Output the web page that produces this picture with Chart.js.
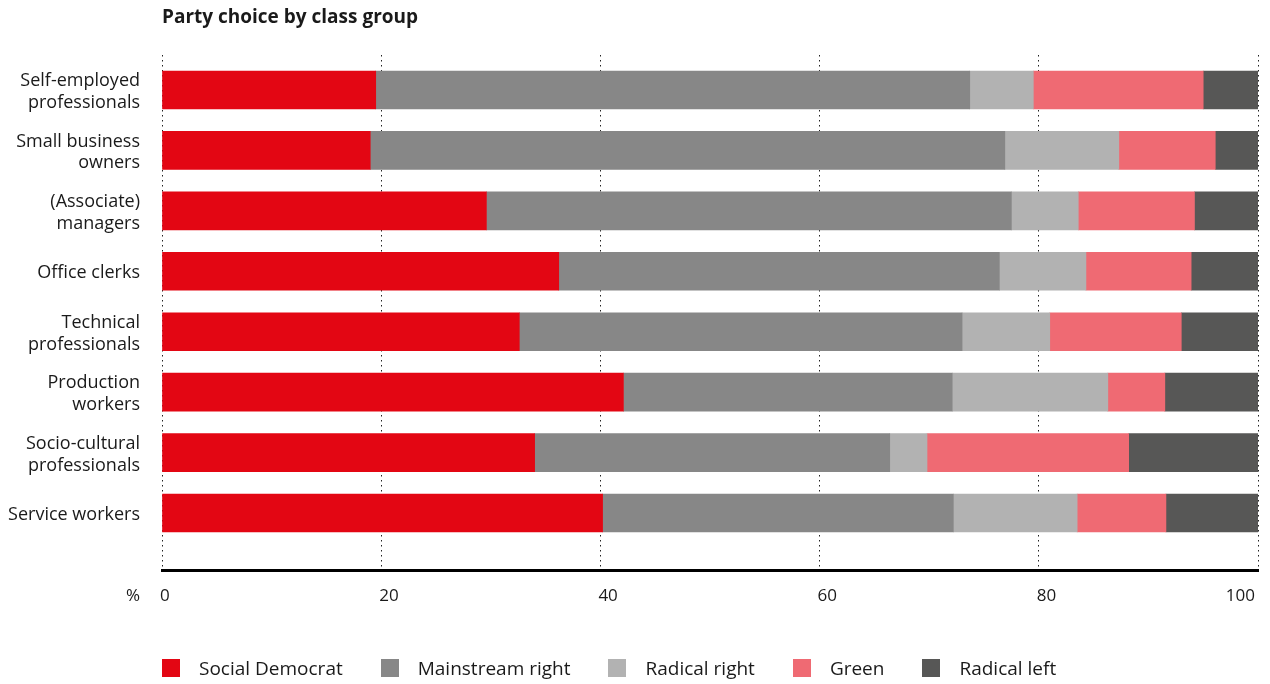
<!DOCTYPE html>
<html>
<head>
<meta charset="utf-8">
<script src="https://cdn.jsdelivr.net/npm/chart.js@4/dist/chart.umd.min.js"></script>
<style>
  body { margin: 0; background: #fff; font-family: "Open Sans", sans-serif; color: #1a1a1a; }
  #wrap { position: relative; width: 1270px; height: 684px; }
  #title { position: absolute; left: 162px; top: 4px; font-size: 19px; font-weight: bold; line-height: 24px; }
  #legend { position: absolute; left: 162px; top: 656px; display: flex; gap: 38px; font-size: 19px; line-height: 24px; }
  #legend span { display: flex; align-items: center; }
  #legend i { display: inline-block; width: 18px; height: 18px; margin-right: 19px; }
</style>
</head>
<body>
<div id="wrap">
  <canvas id="chart"></canvas>
  <div id="title">Party choice by class group</div>
  <div id="legend"></div>
</div>
<script>
// Class groups, top to bottom
const categories = [
    ['Self-employed', 'professionals'],
    ['Small business', 'owners'],
    ['(Associate)', 'managers'],
    'Office clerks',
    ['Technical', 'professionals'],
    ['Production', 'workers'],
    ['Socio-cultural', 'professionals'],
    'Service workers',
];

// Vote shares in %
const socialDemocrat  = [19.5, 19.0, 29.6, 36.2, 32.6, 42.1, 34.0, 40.2];
const mainstreamRight = [54.2, 57.9, 47.9, 40.2, 40.4, 30.0, 32.4, 32.0];
const radicalRight    = [5.8, 10.4, 6.1, 7.9, 8.0, 14.2, 3.4, 11.3];
const green           = [15.5, 8.8, 10.6, 9.6, 12.0, 5.2, 18.4, 8.1];
const radicalLeft     = [5.0, 3.9, 5.8, 6.1, 7.0, 8.5, 11.8, 8.4];

const xTicks = [0, 20, 40, 60, 80, 100];

const series = [
    { label: 'Social Democrat', data: socialDemocrat, color: '#e30613' },
    { label: 'Mainstream right', data: mainstreamRight, color: '#878787' },
    { label: 'Radical right', data: radicalRight, color: '#b2b2b2' },
    { label: 'Green', data: green, color: '#ef6a73' },
    { label: 'Radical left', data: radicalLeft, color: '#575756' },
];

const FONT = '"Open Sans", sans-serif';
const TEXT = '#1a1a1a';

// x axis numbers plus the "%" unit, left aligned to the grid line, last one right aligned
const xLabels = {
    id: 'xLabels',
    afterDraw(chart) {
        const { ctx, scales: { x } } = chart;
        ctx.save();
        ctx.font = '17px ' + FONT;
        ctx.fillStyle = TEXT;
        ctx.textBaseline = 'middle';
        xTicks.forEach((t, i) => {
            const last = i === xTicks.length - 1;
            ctx.textAlign = last ? 'right' : 'left';
            ctx.fillText(String(t), x.getPixelForValue(t) + (last ? -3 : -2), 596);
        });
        ctx.textAlign = 'right';
        ctx.fillText('%', 140, 596);
        ctx.restore();
    }
};

new Chart(document.getElementById('chart'), {
    type: 'bar',
    data: {
        datasets: series.map(s => ({
            label: s.label,
            data: s.data.map((v, i) => ({ x: v, y: i })),
            backgroundColor: s.color,
            borderWidth: 0,
            barThickness: 38,
        })),
    },
    options: {
        indexAxis: 'y',
        responsive: true,
        maintainAspectRatio: false,
        animation: false,
        layout: { padding: { top: 55, right: 12, bottom: 114, left: 0 } },
        plugins: {
            legend: { display: false },
            tooltip: { enabled: false },
        },
        scales: {
            x: {
                type: 'linear',
                stacked: true,
                min: 0,
                max: 100,
                ticks: { display: false, stepSize: 20 },
                grid: { color: '#222', lineWidth: 1, drawTicks: false },
                // dash applies to the grid lines, the axis line stays solid
                border: { display: true, color: '#000', width: 3, dash: [1.5, 3.5] },
                afterFit: scale => { scale.height = 0; },
            },
            y: {
                type: 'linear',
                stacked: true,
                reverse: true,
                offset: false,
                min: -0.579,
                max: 7.943,
                afterBuildTicks: scale => {
                    scale.ticks = categories.map((c, i) => ({ value: i }));
                },
                afterFit: scale => { scale.width = 162; },
                ticks: {
                    padding: 22,
                    labelOffset: 2,
                    color: TEXT,
                    font: { family: FONT, size: 18, lineHeight: 1.2 },
                    callback: v => categories[v],
                },
                grid: { display: false, drawTicks: false, offset: false },
                border: { display: false },
            },
        },
    },
    plugins: [xLabels],
});

// legend
const legend = document.getElementById('legend');
series.forEach(s => {
    const item = document.createElement('span');
    item.innerHTML = `<i style="background:${s.color}"></i>${s.label}`;
    legend.appendChild(item);
});
</script>
</body>
</html>
